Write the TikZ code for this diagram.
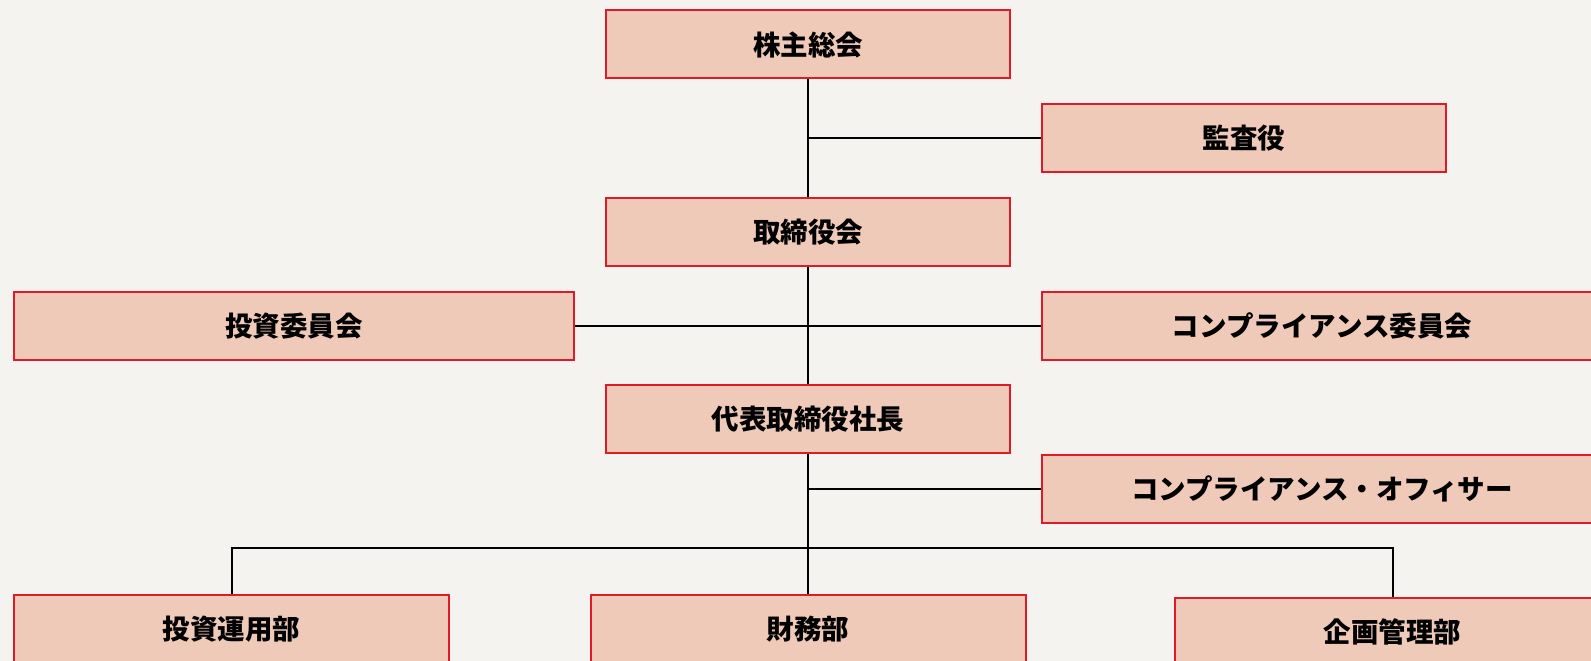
\documentclass[tikz,border=0pt]{standalone}
\usepackage{fontspec}
\setmainfont{Noto Sans CJK JP}
\definecolor{paper}{HTML}{F4F3EF}
\definecolor{boxfill}{HTML}{F0CAB8}
\definecolor{boxred}{HTML}{E01A26}
\pgfdeclarelayer{paperlayer}
\pgfdeclarelayer{linelayer}
\pgfsetlayers{paperlayer,linelayer,main}
\begin{document}
\begin{tikzpicture}[x=1pt,y=-1pt,
  box/.style={draw=boxred, fill=boxfill, line width=2pt, minimum height=68pt,
    inner sep=0pt, font=\fontsize{27.5}{32}\selectfont\bfseries, text=black},
  link/.style={line width=2pt, draw=black}]
\useasboundingbox (0,0) rectangle (1591,661);
\begin{pgfonlayer}{paperlayer}
  \fill[paper] (0,0) rectangle (1591,661);
\end{pgfonlayer}
\clip (0,0) rectangle (1591,661);
\node[box, minimum width=404pt] (A) at (808,44.5) {株主総会};
\node[box, minimum width=404pt] (B) at (1244,138) {監査役};
\node[box, minimum width=404pt] (C) at (808,232) {取締役会};
\node[box, minimum width=560pt] (D) at (294,326) {投資委員会};
\node[box, minimum width=560pt] (E) at (1322,326) {コンプライアンス委員会};
\node[box, minimum width=404pt] (F) at (808,419) {代表取締役社長};
\node[box, minimum width=560pt] (G) at (1322,489) {コンプライアンス・オフィサー};
\node[box, minimum width=435pt] (H) at (231.5,629) {投資運用部};
\node[box, minimum width=435pt] (I) at (808,629) {財務部};
\node[box, minimum width=435pt] (J) at (1392.5,632) {企画管理部};
\coordinate (br) at (808,548);
\begin{pgfonlayer}{linelayer}
  \draw[link] (A.south) -- (C.north);
  \draw[link] (B.west) -- (A.south |- B.west);
  \draw[link] (C.south) -- (F.north);
  \draw[link] (D.east) -- (E.west);
  \draw[link] (F.south) -- (I.north);
  \draw[link] (G.west) -- (F.south |- G.west);
  \draw[link] (H.north) |- (br) -| (J.north);
\end{pgfonlayer}
\end{tikzpicture}
\end{document}
